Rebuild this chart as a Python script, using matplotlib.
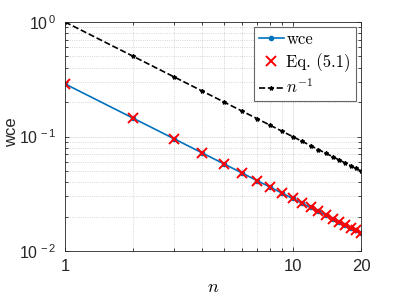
import matplotlib.pyplot as plt
import numpy as np

n = np.arange(1, 21)
wce = [0.288, 0.144, 0.096, 0.072, 0.0576, 0.048, 0.0411, 0.036, 0.032, 0.0288,
       0.0262, 0.024, 0.0222, 0.0206, 0.0192, 0.018, 0.0169, 0.016, 0.0152, 0.0144]
eq51 = [0.288, 0.144, 0.096, 0.072, 0.0576, 0.048, 0.0411, 0.036, 0.032, 0.0288,
        0.0262, 0.024, 0.0222, 0.0206, 0.0192, 0.018, 0.0169, 0.016, 0.0152, 0.0144]
ninv = [1.0, 0.5, 0.3333, 0.25, 0.2, 0.1667, 0.1429, 0.125, 0.1111, 0.1,
        0.0909, 0.0833, 0.0769, 0.0714, 0.0667, 0.0625, 0.0588, 0.0556, 0.0526, 0.05]

plt.rcParams['font.family'] = ['Liberation Sans', 'DejaVu Sans']
plt.rcParams['mathtext.fontset'] = 'custom'
plt.rcParams['mathtext.rm'] = 'Liberation Sans'
plt.rcParams['mathtext.it'] = 'Liberation Sans:italic'

fig = plt.figure(figsize=(3.99, 2.99), dpi=100)
ax = fig.add_axes([65 / 399, 1 - 251 / 299, 296 / 399, 229 / 299])

blue = (0, 0.447, 0.741)
ax.plot(n, wce, '-o', color=blue, lw=1.2, ms=3, mfc=blue, label='wce')
ax.plot(n, eq51, 'x', color='red', ms=7, mew=1.4, ls='none', label='Eq. (5.1)')
ax.plot(n, ninv, '--*', color='black', lw=1.2, ms=3, label='$n^{-1}$')

ax.set_xscale('log')
ax.set_yscale('log')
ax.set_xlim(1, 20)
ax.set_ylim(1e-2, 1)
ax.set_xticks([1, 10, 20])
ax.set_xticklabels(['1', '10', '20'])
ax.set_yticks([1e-2, 1e-1, 1])
ax.set_yticklabels(['$10^{\\,-2}$', '$10^{\\,-1}$', '$10^{\\,0}$'])

ax.grid(True, which='major', ls='-', color='0.15', alpha=0.12, lw=0.6)
ax.grid(True, which='minor', ls=':', color='0.15', alpha=0.25, lw=0.6)
ax.tick_params(which='both', direction='in', top=True, right=True,
               labelsize=12, colors='0.15', length=3, width=0.6)
ax.tick_params(axis='y', labelsize=11.5, pad=6)
ax.tick_params(which='minor', length=2)
ax.tick_params(axis='x', which='minor', labelbottom=False)
ax.tick_params(axis='x', pad=6)
for s in ax.spines.values():
    s.set_color('0.15')
    s.set_linewidth(0.6)

ax.set_xlabel('$n$', fontsize=13, math_fontfamily='cm', va='center')
ax.xaxis.set_label_coords(148 / 296, -36 / 229)
ax.set_ylabel('wce', fontsize=12, va='center', color='0.15')
ax.yaxis.set_label_coords(-53 / 296, 119 / 229)

leg = ax.legend(loc='upper right', fancybox=False, framealpha=1, edgecolor='0.4',
                fontsize=12, handlelength=1.5, handletextpad=0.15, borderpad=0.3,
                labelspacing=0.35, borderaxespad=0.3)
leg.get_frame().set_linewidth(0.8)
for t in leg.get_texts():
    t.set_family('cmr10')
    t.set_math_fontfamily('cm')

plt.savefig('out.png', dpi=100)
